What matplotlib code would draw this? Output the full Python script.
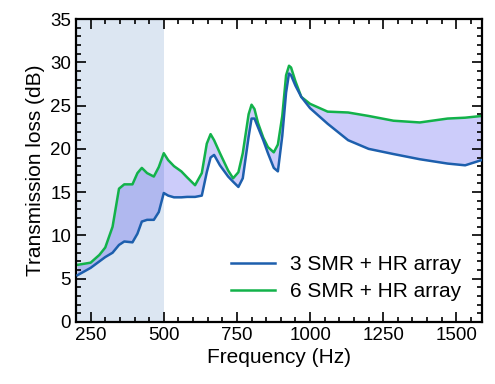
import matplotlib.pyplot as plt
from matplotlib.ticker import MultipleLocator

# frequency (Hz) and transmission loss (dB)
freq = [205, 250, 280, 300, 325, 347, 365, 393, 410, 425, 443, 466, 483, 500,
        515, 535, 560, 580, 607, 630, 647, 660, 672, 692, 720, 737, 755, 770,
        790, 800, 810, 822, 840, 856, 876, 890, 905, 918, 928, 935, 950, 970,
        1000, 1060, 1130, 1200, 1285, 1375, 1470, 1530, 1586]
tl_3smr = [5.4, 6.25, 7.0, 7.5, 8.0, 8.9, 9.3, 9.2, 10.2, 11.6, 11.8, 11.8, 12.7, 14.9,
           14.6, 14.4, 14.4, 14.45, 14.45, 14.6, 17.3, 19.0, 19.3, 18.1, 16.8, 16.2, 15.6, 16.6,
           21.4, 23.5, 23.5, 22.5, 21.0, 19.5, 17.8, 17.4, 21.5, 26.5, 28.7, 28.5, 27.3, 26.0,
           24.7, 22.9, 21.0, 20.0, 19.4, 18.8, 18.3, 18.1, 18.7]
tl_6smr = [6.6, 6.85, 7.75, 8.6, 11.0, 15.4, 15.9, 15.9, 17.2, 17.8, 17.2, 16.8, 17.9, 19.5,
           18.7, 18.0, 17.4, 16.7, 15.8, 17.2, 20.6, 21.7, 21.0, 19.5, 17.5, 16.6, 17.3, 19.5,
           24.0, 25.1, 24.6, 23.0, 21.3, 20.2, 19.6, 20.5, 23.8, 28.5, 29.6, 29.4, 27.8, 26.0,
           25.2, 24.3, 24.2, 23.8, 23.25, 23.05, 23.5, 23.6, 23.8]
band = [200, 500]

plt.rcParams['font.family'] = ['Liberation Sans', 'DejaVu Sans']

fig = plt.figure(figsize=(4.95, 3.84), dpi=100)
ax = fig.add_axes([0.1535, 0.1615, 0.8205, 0.789])

ax.axvspan(band[0], band[1], color='#dce6f2', lw=0, zorder=0)
ax.fill_between(freq, tl_3smr, tl_6smr, color=(0, 0, 0.9), alpha=0.2, lw=0, zorder=1)
ax.plot(freq, tl_3smr, color='#1d5fad', lw=1.8, label='3 SMR + HR array', zorder=3)
ax.plot(freq, tl_6smr, color='#12b24a', lw=1.8, label='6 SMR + HR array', zorder=2)

ax.set_xlim(200, 1588)
ax.set_ylim(0, 35)
ax.xaxis.set_major_locator(MultipleLocator(250))
ax.xaxis.set_minor_locator(MultipleLocator(50))
ax.yaxis.set_major_locator(MultipleLocator(5))
ax.yaxis.set_minor_locator(MultipleLocator(1))
ax.tick_params(which='both', direction='in', top=True, right=True, width=1.2, labelsize=13.5)
ax.tick_params(which='major', length=7)
ax.tick_params(which='minor', length=3.5)
for s in ax.spines.values():
    s.set_linewidth(1.6)

ax.set_xlabel('Frequency (Hz)', fontsize=15, labelpad=3)
ax.set_ylabel('Transmission loss (dB)', fontsize=15)
ax.legend(loc='lower right', frameon=False, fontsize=15, handlelength=2.1,
          handletextpad=0.75, borderaxespad=0.6, labelspacing=0.4)

fig.savefig('out.png', dpi=100)
